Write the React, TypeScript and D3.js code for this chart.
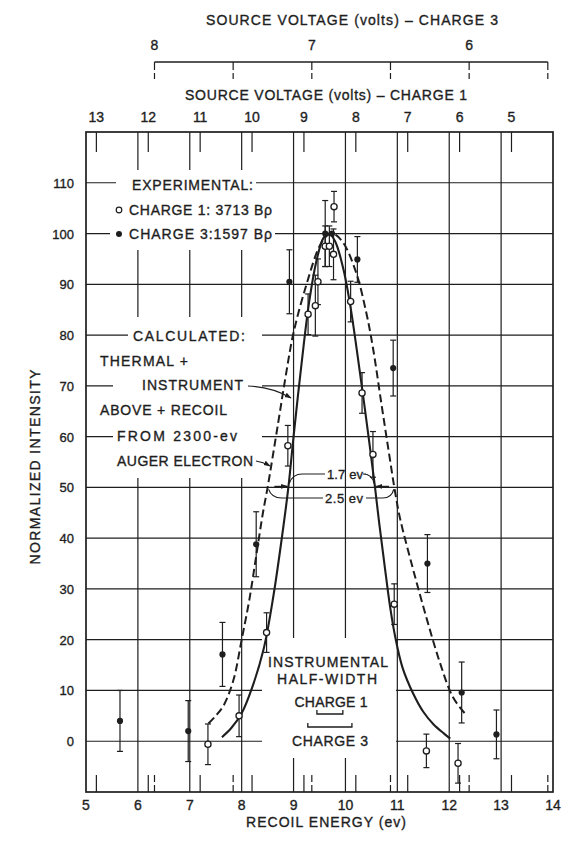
import React from "react";
import * as d3 from "d3";

// ---------- data ----------
const energyTicks = [5, 6, 7, 8, 9, 10, 11, 12, 13, 14];
const gridEnergies = [6, 7, 8, 9, 10, 11, 12, 13];
const intensityTicks = [0, 10, 20, 30, 40, 50, 60, 70, 80, 90, 100, 110];
const volt1Ticks = [13, 12, 11, 10, 9, 8, 7, 6, 5];
const volt3Ticks = [8, 7.5, 7, 6.5, 6, 5.5];
const volt3Labels = [8, 7, 6];

// calculated: thermal + instrument (solid)
const solidCurve: [number, number][] = [
  [7.62, 0.8], [7.8, 2.6], [8.0, 5.5], [8.2, 10.5], [8.42, 18], [8.61, 28.5],
  [8.8, 42], [8.9, 50], [9.0, 60], [9.15, 74], [9.3, 86.5], [9.45, 95],
  [9.58, 99.2], [9.68, 100], [9.8, 98.5], [9.96, 93], [10.09, 86], [10.22, 77],
  [10.4, 63.5], [10.57, 50], [10.65, 43], [10.75, 35], [10.86, 26.5],
  [10.96, 20.5], [11.1, 14.5], [11.3, 9.5], [11.5, 5.8], [11.7, 3.3],
  [11.9, 1.5], [12.02, 0.5],
];

// calculated: above + recoil from auger electron (dashed)
const dashedCurve: [number, number][] = [
  [7.36, 3.5], [7.5, 5], [7.65, 7], [7.84, 12], [8.0, 20], [8.15, 28],
  [8.28, 36.5], [8.41, 45], [8.5, 50], [8.7, 62.5], [8.85, 72], [9.0, 80.5],
  [9.25, 90], [9.5, 97.5], [9.65, 99.6], [9.76, 100], [9.95, 98.3],
  [10.2, 92.5], [10.4, 84.5], [10.53, 77.5], [10.7, 66], [10.85, 56],
  [10.95, 49.5], [11.05, 44], [11.3, 34], [11.57, 24], [11.82, 15.5],
  [12.07, 8.7], [12.3, 5.5],
];

// experimental: [energy, intensity, error]
const charge1Points: [number, number, number][] = [
  [7.35, -0.6, 4], [7.95, 5.0, 4.1], [8.48, 21.4, 3.9], [8.89, 58.2, 4],
  [9.28, 84.1, 4], [9.42, 85.8, 6], [9.47, 90.5, 4.5], [9.61, 97.5, 4],
  [9.69, 97.5, 4], [9.77, 95.9, 5], [9.78, 105.3, 3], [10.1, 86.6, 4],
  [10.32, 68.6, 4], [10.53, 56.5, 4.5], [10.94, 27, 4], [11.56, -1.9, 3.3],
  [12.17, -4.35, 3.9],
];
const charge3Points: [number, number, number][] = [
  [5.655, 4.0, 6], [6.97, 2.0, 6], [7.63, 17.1, 6.3], [8.28, 38.8, 6.4],
  [8.92, 90.5, 6.3], [9.61, 100, 6.5], [9.74, 100, 0], [10.23, 94.9, 4.5],
  [10.92, 73.5, 5.5], [11.58, 35, 5.7], [12.24, 9.6, 6], [12.91, 1.35, 4.8],
];

const halfMaxSolid = [8.9, 10.57];
const halfMaxDashed = [8.5, 10.95];
const instrHalfWidth = { center: 9.7, charge1: 0.5, charge3: 0.85 };

// ---------- scales ----------
const x = d3.scaleLinear().domain([5, 14]).range([86, 553]);
const y = d3.scaleLinear().domain([-10, 120]).range([792, 132]);
const v1 = d3.scaleLinear().domain([13, 5]).range([x(5.2), x(13.2)]);
const v3 = d3.scaleLinear().domain([8, 5.5]).range([x(6.32), x(13.9)]);

const INK = "#1e1e1e";
const FONT = "'Liberation Sans', Arial, sans-serif";

const line = d3
  .line<[number, number]>()
  .x((d) => x(d[0]))
  .y((d) => y(d[1]))
  .curve(d3.curveCatmullRom.alpha(0.5));

function T(props: any) {
  const { children, ...rest } = props;
  return (
    <text fontFamily={FONT} fontSize={14} fill={INK} stroke={INK} strokeWidth={0.35} {...rest}>
      {children}
    </text>
  );
}

export default function App() {
  const top = y(120);
  const bottom = y(-10);
  const left = x(5);
  const right = x(14);
  const y50 = y(50);

  const sL = x(halfMaxSolid[0]);
  const sR = x(halfMaxSolid[1]);
  const dL = x(halfMaxDashed[0]);
  const dR = x(halfMaxDashed[1]);

  const hc = x(instrHalfWidth.center);
  const hw1 = (x(instrHalfWidth.center + instrHalfWidth.charge1) - hc) / 2;
  const hw3 = (x(instrHalfWidth.center + instrHalfWidth.charge3) - hc) / 2;

  return (
    <div style={{ position: "absolute", left: 0, top: 0 }}>
      <svg width={564} height={841} viewBox="0 0 564 841">
        <defs>
          <marker id="arr" viewBox="0 0 10 10" refX="9" refY="5" markerWidth="7" markerHeight="7" orient="auto-start-reverse" markerUnits="userSpaceOnUse">
            <path d="M0,1.5 L10,5 L0,8.5 z" fill={INK} />
          </marker>
        </defs>
        <rect width={564} height={841} fill="#ffffff" />

        {/* grid */}
        <g stroke={INK} strokeWidth={1.2}>
          {gridEnergies.map((e) => (
            <line key={"vg" + e} x1={x(e)} x2={x(e)} y1={top} y2={bottom} />
          ))}
          {intensityTicks.map((v) => (
            <line key={"hg" + v} x1={left} x2={right} y1={y(v)} y2={y(v)} />
          ))}
        </g>

        {/* white masks behind text blocks */}
        <g fill="#ffffff">
          <rect x={116} y={170} width={140} height={28} />
          <rect x={110} y={197} width={165} height={53} />
          <rect x={128} y={317} width={134} height={38} />
          <rect x={113} y={355} width={149} height={123} />
          <rect x={262} y={638} width={134} height={120} />
        </g>

        {/* frame */}
        <rect x={left} y={top} width={right - left} height={bottom - top} fill="none" stroke={INK} strokeWidth={1.7} />

        {/* voltage ticks on the frame */}
        <g stroke={INK} strokeWidth={1.2}>
          {volt1Ticks.map((v) => (
            <line key={"t1" + v} x1={v1(v)} x2={v1(v)} y1={top} y2={top + 20} />
          ))}
          {volt1Ticks.map((v) => (
            <line key={"b1" + v} x1={v1(v)} x2={v1(v)} y1={bottom} y2={bottom - 17} />
          ))}
          {volt3Ticks.map((v) => (
            <line key={"b3" + v} x1={v3(v)} x2={v3(v)} y1={bottom} y2={bottom - 17} strokeDasharray="7,3" />
          ))}
        </g>
        {volt1Ticks.map((v) => (
          <T key={"l1" + v} x={v1(v)} y={122} textAnchor="middle">{v}</T>
        ))}
        <T x={326} y={100} textAnchor="middle" textLength={282} lengthAdjust="spacing">
          SOURCE VOLTAGE (volts) – CHARGE 1
        </T>

        {/* charge-3 voltage axis */}
        <g stroke={INK} strokeWidth={1.2}>
          <line x1={v3(8)} x2={v3(5.5)} y1={62} y2={62} strokeWidth={1.4} />
          {volt3Ticks.map((v) => (
            <line key={"t3" + v} x1={v3(v)} x2={v3(v)} y1={62} y2={79} strokeDasharray="8,3" />
          ))}
        </g>
        {volt3Labels.map((v) => (
          <T key={"l3" + v} x={v3(v)} y={50} textAnchor="middle">{v}</T>
        ))}
        <T x={352} y={25} textAnchor="middle" textLength={292} lengthAdjust="spacing">
          SOURCE VOLTAGE (volts) – CHARGE 3
        </T>

        {/* bottom axis labels */}
        {energyTicks.map((e) => (
          <T key={"xl" + e} x={x(e)} y={810} textAnchor="middle">{e}</T>
        ))}
        <T x={326} y={827} textAnchor="middle" textLength={160} lengthAdjust="spacing">
          RECOIL ENERGY (ev)
        </T>

        {/* left axis labels */}
        {intensityTicks.map((v) => (
          <T key={"yl" + v} x={74} y={y(v) + 5} textAnchor="end" fontSize={13}>{v}</T>
        ))}
        <T transform="translate(40,467) rotate(-90)" textAnchor="middle" textLength={195} lengthAdjust="spacing">
          NORMALIZED INTENSITY
        </T>

        {/* experimental legend */}
        <T x={132} y={190} textLength={121} lengthAdjust="spacing">EXPERIMENTAL:</T>
        <circle cx={119} cy={210} r={2.8} fill="#fff" stroke={INK} strokeWidth={1.2} />
        <T x={129} y={215} textLength={143} lengthAdjust="spacing">CHARGE 1: 3713 Bρ</T>
        <circle cx={119} cy={234} r={3} fill={INK} />
        <T x={129} y={239} textLength={143} lengthAdjust="spacing">CHARGE 3:1597 Bρ</T>

        {/* calculated legend */}
        <T x={133} y={341} textLength={112} lengthAdjust="spacing">CALCULATED:</T>
        <T x={100} y={366} textLength={88} lengthAdjust="spacing">THERMAL +</T>
        <T x={142} y={390} textLength={101} lengthAdjust="spacing">INSTRUMENT</T>
        <T x={100} y={415} textLength={127} lengthAdjust="spacing">ABOVE + RECOIL</T>
        <T x={117} y={441} textLength={120} lengthAdjust="spacing">FROM 2300-ev</T>
        <T x={117} y={466} textLength={136} lengthAdjust="spacing">AUGER ELECTRON</T>

        {/* instrumental half width */}
        <T x={328} y={667} textAnchor="middle" textLength={120} lengthAdjust="spacing">INSTRUMENTAL</T>
        <T x={327} y={684} textAnchor="middle" textLength={100} lengthAdjust="spacing">HALF-WIDTH</T>
        <T x={331} y={707} textAnchor="middle" textLength={73} lengthAdjust="spacing">CHARGE 1</T>
        <path d={`M${hc - hw1},710 L${hc - hw1},714 L${hc + hw1},714 L${hc + hw1},710`} fill="none" stroke={INK} strokeWidth={1.3} />
        <path d={`M${hc - hw3},723 L${hc - hw3},727 L${hc + hw3},727 L${hc + hw3},723`} fill="none" stroke={INK} strokeWidth={1.3} />
        <T x={330} y={746} textAnchor="middle" textLength={76} lengthAdjust="spacing">CHARGE 3</T>

        {/* curves */}
        <path d={line(solidCurve) || ""} fill="none" stroke={INK} strokeWidth={2.1} />
        <path d={line(dashedCurve) || ""} fill="none" stroke={INK} strokeWidth={2} strokeDasharray="8,4" />

        {/* leaders */}
        <path d="M248,386 Q272,387 291,398" fill="none" stroke={INK} strokeWidth={1.1} markerEnd="url(#arr)" />
        <path d="M256,461 Q263,462 270,466" fill="none" stroke={INK} strokeWidth={1.1} markerEnd="url(#arr)" />

        {/* width dimensions */}
        <g fill="none" stroke={INK} strokeWidth={1.2}>
          <line x1={sL - 14} x2={sL - 1} y1={y50 - 1} y2={y50 - 1} markerEnd="url(#arr)" />
          <line x1={sR + 14} x2={sR + 1} y1={y50 - 1} y2={y50 - 1} markerEnd="url(#arr)" />
          <path d={`M${sL + 1},${y50 - 4} Q${sL + 4},474 ${sL + 14},474 L${325},474`} />
          <path d={`M366,474 L${sR - 12},474 Q${sR - 3},474 ${sR - 1},${y50 - 4}`} />
          <path d={`M${dL + 1},${y50 + 2} Q${dL + 4},498 ${dL + 14},498 L${323},498`} />
          <path d={`M366,498 L${dR - 12},498 Q${dR - 3},498 ${dR - 1},${y50 + 2}`} />
        </g>
        <T x={345} y={479} textAnchor="middle" fontSize={13} textLength={36} lengthAdjust="spacing">1.7 ev</T>
        <T x={344} y={503} textAnchor="middle" fontSize={13} textLength={38} lengthAdjust="spacing">2.5 ev</T>

        {/* data points */}
        <g stroke={INK} strokeWidth={1.2}>
          {[...charge1Points, ...charge3Points].map((p, i) =>
            p[2] > 0 ? (
              <g key={"eb" + i}>
                <line x1={x(p[0])} x2={x(p[0])} y1={y(p[1] + p[2])} y2={y(p[1] - p[2])} />
                <line x1={x(p[0]) - 3} x2={x(p[0]) + 3} y1={y(p[1] + p[2])} y2={y(p[1] + p[2])} />
                <line x1={x(p[0]) - 3} x2={x(p[0]) + 3} y1={y(p[1] - p[2])} y2={y(p[1] - p[2])} />
              </g>
            ) : null
          )}
        </g>
        {charge1Points.map((p, i) => (
          <circle key={"c1" + i} cx={x(p[0])} cy={y(p[1])} r={3.1} fill="#fff" stroke={INK} strokeWidth={1.3} />
        ))}
        {charge3Points.map((p, i) => (
          <circle key={"c3" + i} cx={x(p[0])} cy={y(p[1])} r={3.1} fill={INK} />
        ))}
      </svg>
    </div>
  );
}
